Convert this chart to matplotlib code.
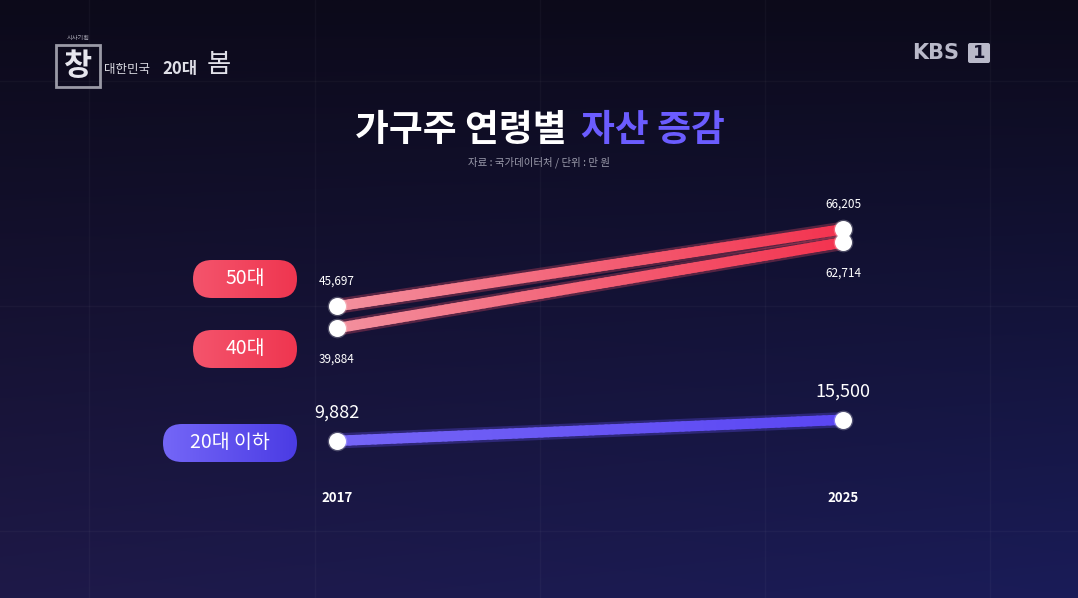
import numpy as np
import matplotlib.pyplot as plt
import matplotlib.colors as mcolors
from matplotlib.collections import LineCollection
from matplotlib.patches import FancyBboxPatch, Rectangle

plt.rcParams['font.family'] = ['Noto Sans CJK KR', 'DejaVu Sans']

# data (unit: 만 원)
years = [2017, 2025]
groups = ['50대', '40대', '20대 이하']
assets_2017 = [45697, 39884, 9882]
assets_2025 = [66205, 62714, 15500]

W, H = 1078, 598
fig = plt.figure(figsize=(W / 100, H / 100), dpi=100)

def fx(px):
    return px / W

def fy(py):
    return 1 - py / H

# background layer in pixel coordinates
bg = fig.add_axes([0, 0, 1, 1])
bg.set_xlim(0, W)
bg.set_ylim(H, 0)
bg.axis('off')

t = np.linspace(0, 1, 200)[:, None]
s = np.linspace(0, 1, 300)[None, :]
top = np.array([12, 10, 26]) / 255
bot = np.array([30, 25, 72]) / 255
grad = top * (1 - t[..., None]) + bot * t[..., None]
grad = grad + (s * t)[..., None] * np.array([-4, 3, 16]) / 255
bg.imshow(np.clip(grad, 0, 1), extent=[0, W, H, 0], aspect='auto', zorder=0)

# faint grid of the backdrop
for gx in [89, 315, 540, 765, 990]:
    bg.axvline(gx, color='white', alpha=0.03, lw=1, zorder=1)
for gy in [81, 306, 531]:
    bg.axhline(gy, color='white', alpha=0.03, lw=1, zorder=1)

# program logo (top left)
bg.add_patch(Rectangle((56, 45), 44, 42, fill=False, ec='#9a9aa6', lw=2, zorder=2))
bg.text(78, 66, '창', color='#e6e6ee', fontsize=22, fontweight='bold',
        ha='center', va='center', zorder=3)
bg.text(78, 38, '시사기획', color='#b0b0bc', fontsize=4.5, ha='center', va='center')
bg.text(127, 70, '대한민국', color='#d8d8e0', fontsize=9, ha='center', va='center')
bg.text(180, 69, '20대', color='#e0e0e8', fontsize=12, fontweight='bold',
        fontstyle='italic', ha='center', va='center')
bg.text(219, 64, '봄', color='#e0e0e8', fontsize=19, ha='center', va='center')

# broadcaster logo (top right)
bg.text(912, 53, 'KBS', color='#b9b9c9', fontsize=15, fontweight='bold',
        ha='left', va='center', family='DejaVu Sans')
bg.add_patch(FancyBboxPatch((968, 43), 22, 20, boxstyle='round,pad=0,rounding_size=2',
                            fc='#b9b9c9', ec='none'))
bg.text(979, 53, '1', color='#13112a', fontsize=13, fontweight='bold',
        ha='center', va='center', family='DejaVu Sans')

# title and source
bg.text(567, 130, '가구주 연령별', color='white', fontsize=26.5, fontweight='heavy',
        ha='right', va='center')
bg.text(581, 130, '자산 증감', color='#6b5cff', fontsize=26.5, fontweight='heavy',
        ha='left', va='center')
bg.text(539, 162, '자료 : 국가데이터처 / 단위 : 만 원', color='#9c9cac', fontsize=7.5,
        ha='center', va='center')

# group pills on the left
pill_specs = [
    ('50대', 279, 104, '#f4546c', '#ef3650'),
    ('40대', 349, 104, '#f4546c', '#ef3650'),
    ('20대 이하', 443, 134, '#7466f7', '#4b3ce4'),
]
for label, cy, pw, c_left, c_right in pill_specs:
    x0 = 297 - pw
    pill = FancyBboxPatch((x0, cy - 19), pw, 38,
                          boxstyle='round,pad=0,rounding_size=19',
                          fc='none', ec='none', zorder=3)
    bg.add_patch(pill)
    cmap = mcolors.LinearSegmentedColormap.from_list('p', [c_left, c_right])
    im = bg.imshow(np.linspace(0, 1, 64)[None, :], cmap=cmap, aspect='auto',
                   extent=[x0, x0 + pw, cy + 19, cy - 19], zorder=3)
    im.set_clip_path(pill)
    bg.text(x0 + pw / 2, cy, label, color='white', fontsize=14, fontweight='medium',
            ha='center', va='center', zorder=4)
bg.set_xlim(0, W)
bg.set_ylim(H, 0)

# slope chart axes
ax = fig.add_axes([fx(337), fy(478), fx(843) - fx(337), fy(215) - fy(478)])
ax.set_xlim(2017, 2025)
ax.set_ylim(0, 70000)
ax.patch.set_alpha(0)
for sp in ax.spines.values():
    sp.set_visible(False)
ax.set_yticks([])
ax.set_xticks(years)
ax.set_xticklabels([str(y) for y in years], color='white', fontsize=9.5,
                   fontweight='bold')
ax.tick_params(axis='x', length=0, pad=9)

line_colors = [('#f3909e', '#f3334f'), ('#f3909e', '#f3334f'), ('#7565f6', '#5a46f3')]
label_big = [False, False, True]
label_offset = [18, -22, 20]

for v0, v1, (c0, c1), big, off in zip(assets_2017, assets_2025, line_colors,
                                      label_big, label_offset):
    cmap = mcolors.LinearSegmentedColormap.from_list('l', [c0, c1])
    # soft glow under the line
    ax.plot(years, [v0, v1], color=cmap(0.7), lw=11, alpha=0.3,
            solid_capstyle='butt', zorder=2)
    # gradient line: the segment between the two values, coloured left to right
    frac = np.linspace(0, 1, 80)
    pts = np.column_stack([years[0] + frac * (years[1] - years[0]),
                           v0 + frac * (v1 - v0)])
    segs = np.stack([pts[:-1], pts[1:]], axis=1)
    ax.add_collection(LineCollection(segs, colors=cmap(frac[:-1]), linewidths=7.5,
                                     capstyle='round', zorder=3))
    ax.scatter(years, [v0, v1], s=200, color='white', alpha=0.25, zorder=4,
               clip_on=False, lw=0)
    ax.scatter(years, [v0, v1], s=150, color='white', zorder=5, clip_on=False, lw=0)
    fs = 13 if big else 8.5
    ax.annotate(f'{v0:,}', (years[0], v0), xytext=(0, off), textcoords='offset points',
                ha='center', va='center', color='white', fontsize=fs)
    ax.annotate(f'{v1:,}', (years[1], v1), xytext=(0, off), textcoords='offset points',
                ha='center', va='center', color='white', fontsize=fs)

fig.savefig('out.png', dpi=100)
